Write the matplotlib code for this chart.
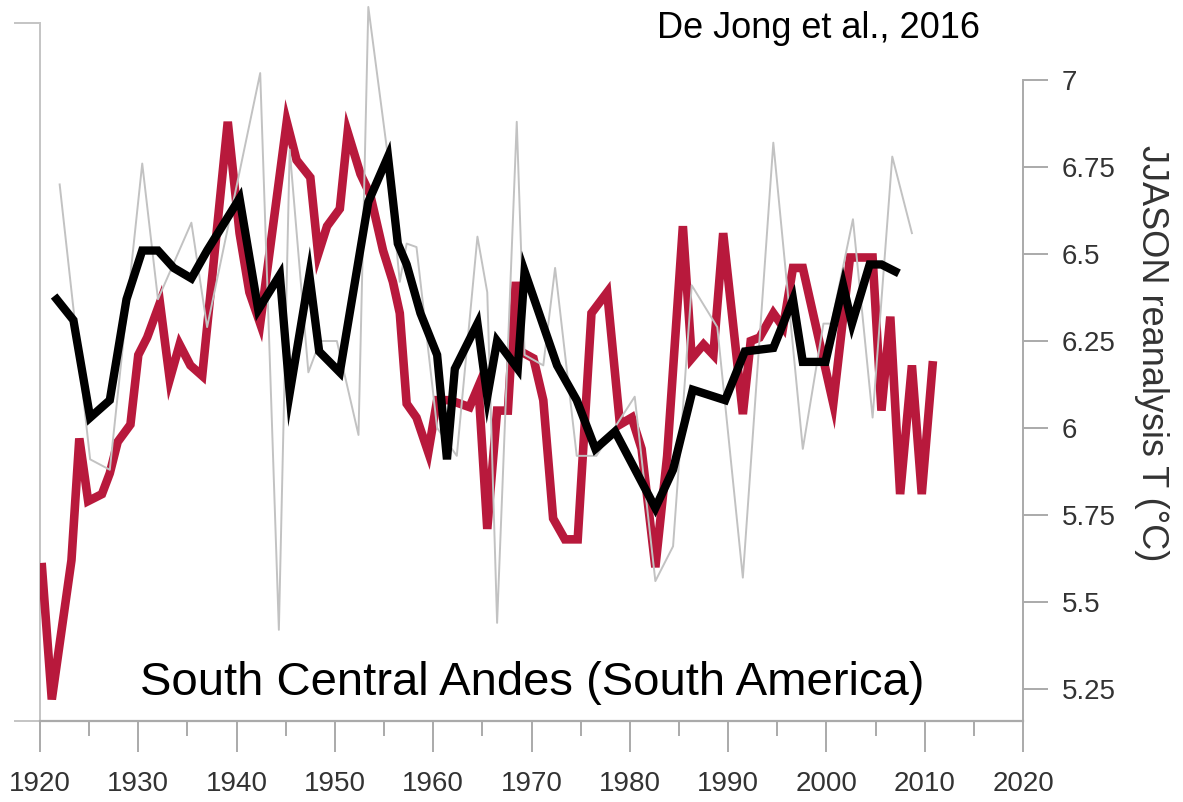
import numpy as np
import matplotlib
matplotlib.use('Agg')
import matplotlib.pyplot as plt
from matplotlib.ticker import MultipleLocator

plt.rcParams['font.family'] = ['Liberation Sans', 'DejaVu Sans']

# --- DATA (right-hand axis units, deg C) ---
red_years = [1920.2, 1921.2, 1923.2, 1924.0, 1924.9, 1926.3, 1927.1, 1927.9, 1929.2, 1930.0,
             1930.9, 1932.2, 1933.2, 1934.2, 1935.3, 1936.5, 1937.5, 1939.1, 1940.3, 1941.3,
             1942.4, 1945.1, 1946.1, 1947.5, 1948.3, 1949.2, 1950.5, 1951.3, 1952.6, 1953.6,
             1954.9, 1955.9, 1956.6, 1957.3, 1958.3, 1959.5, 1960.4, 1961.7, 1963.7, 1964.6,
             1965.5, 1966.5, 1967.6, 1968.4, 1968.9, 1970.2, 1971.2, 1972.2, 1973.4, 1974.7,
             1976.1, 1977.7, 1979.0, 1980.2, 1981.2, 1982.6, 1983.8, 1985.4, 1986.3, 1987.5,
             1988.5, 1989.5, 1991.5, 1992.3, 1993.2, 1994.6, 1995.6, 1996.6, 1997.6, 2000.7,
             2002.4, 2003.4, 2004.7, 2005.6, 2006.5, 2007.5, 2008.7, 2009.7, 2010.8]
red_vals = [5.60, 5.22, 5.62, 5.97, 5.79, 5.81, 5.87, 5.96, 6.01, 6.21,
            6.26, 6.36, 6.14, 6.24, 6.18, 6.15, 6.43, 6.88, 6.56, 6.39,
            6.30, 6.88, 6.77, 6.72, 6.50, 6.58, 6.63, 6.85, 6.73, 6.67,
            6.51, 6.42, 6.33, 6.07, 6.03, 5.93, 6.08, 6.08, 6.06, 6.12,
            5.71, 6.05, 6.05, 6.42, 6.22, 6.20, 6.08, 5.74, 5.68, 5.68,
            6.33, 6.39, 6.01, 6.03, 5.94, 5.60, 5.92, 6.58, 6.20, 6.24,
            6.21, 6.56, 6.04, 6.25, 6.26, 6.33, 6.29, 6.46, 6.46, 6.07,
            6.49, 6.49, 6.49, 6.05, 6.32, 5.81, 6.18, 5.81, 6.18]

black_years = [1921.7, 1923.4, 1925.1, 1927.1, 1928.8, 1930.4, 1932.0, 1933.6, 1935.4, 1937.0,
               1940.3, 1942.2, 1944.4, 1945.4, 1947.4, 1948.4, 1950.5, 1953.4, 1955.4, 1956.4,
               1957.3, 1958.7, 1960.4, 1961.4, 1962.2, 1964.5, 1965.5, 1966.5, 1968.6, 1969.3,
               1972.6, 1974.6, 1976.5, 1978.5, 1982.6, 1984.4, 1986.4, 1989.7, 1991.7, 1994.6,
               1996.6, 1997.6, 1999.9, 2001.7, 2002.6, 2004.4, 2005.6, 2007.0]
black_vals = [6.37, 6.31, 6.03, 6.08, 6.37, 6.51, 6.51, 6.46, 6.43, 6.51,
              6.66, 6.34, 6.44, 6.10, 6.44, 6.22, 6.16, 6.65, 6.78, 6.53,
              6.47, 6.33, 6.21, 5.91, 6.17, 6.30, 6.09, 6.25, 6.17, 6.45,
              6.18, 6.08, 5.94, 5.99, 5.77, 5.88, 6.11, 6.08, 6.22, 6.23,
              6.37, 6.19, 6.19, 6.41, 6.30, 6.47, 6.47, 6.45]

gray_years = [1922.0, 1925.1, 1927.1, 1930.4, 1932.0, 1935.4, 1937.0, 1942.4, 1944.3, 1945.4,
              1947.3, 1948.5, 1950.2, 1952.4, 1953.4, 1955.3, 1956.6, 1957.3, 1958.3, 1960.4,
              1962.4, 1964.5, 1965.5, 1966.5, 1968.5, 1969.3, 1971.2, 1972.4, 1974.6, 1976.6,
              1980.5, 1982.6, 1984.4, 1986.3, 1988.9, 1991.5, 1994.6, 1997.6, 1999.7, 2000.5,
              2002.7, 2004.7, 2006.7, 2008.7]
gray_vals = [6.70, 5.91, 5.88, 6.76, 6.37, 6.59, 6.29, 7.02, 5.42, 6.80,
             6.16, 6.25, 6.25, 5.98, 7.21, 6.80, 6.42, 6.53, 6.52, 6.00,
             5.92, 6.55, 6.39, 5.44, 6.88, 6.21, 6.18, 6.46, 5.92, 5.92,
             6.09, 5.56, 5.66, 6.41, 6.29, 5.57, 6.82, 5.94, 6.30, 6.30,
             6.60, 6.03, 6.78, 6.56]

right_ticks = [5.25, 5.5, 5.75, 6, 6.25, 6.5, 6.75, 7]
right_labels = ['5.25', '5.5', '5.75', '6', '6.25', '6.5', '6.75', '7']

# --- FIGURE ---
W, H = 1183, 802
fig = plt.figure(figsize=(W / 100, H / 100), dpi=100)
rect = [40 / W, 81 / H, 983 / W, 721 / H]
ymin, ymax = 5.158, 7.23

# left (unlabelled) proxy axis, drawn underneath
axl = fig.add_axes(rect)
axl.set_ylim(ymin, ymax)
axl.set_xticks([])
for s in ['top', 'right', 'bottom']:
    axl.spines[s].set_visible(False)
axl.spines['left'].set_color('#c4c4c4')
axl.spines['left'].set_linewidth(1.4)
axl.spines['left'].set_bounds(ymin, 7.164)
axl.set_yticks([ymin, 7.164])
axl.set_yticklabels([])
axl.tick_params(axis='y', direction='out', length=19, width=1.4, color='#c4c4c4')

# main axis (reanalysis temperature scale on the right)
ax = fig.add_axes(rect)
ax.patch.set_visible(False)
ax.set_xlim(1920, 2020)
ax.set_ylim(ymin, ymax)

ax.plot(red_years, red_vals, color='#b8193c', lw=6.2, solid_joinstyle='miter', zorder=2)
ax.plot(gray_years, gray_vals, color='#c2c2c2', lw=1.4, zorder=3)
ax.plot(black_years, black_vals, color='black', lw=6, solid_joinstyle='miter', zorder=4)

axis_col = '#aaaaaa'
tick_txt = '#333333'

ax.spines['top'].set_visible(False)
ax.spines['left'].set_visible(False)
ax.spines['bottom'].set_color(axis_col)
ax.spines['bottom'].set_linewidth(1.6)
ax.spines['right'].set_color(axis_col)
ax.spines['right'].set_linewidth(1.4)
ax.spines['right'].set_bounds(ymin, 7.0)

# x axis
ax.xaxis.set_major_locator(MultipleLocator(10))
ax.xaxis.set_minor_locator(MultipleLocator(5))
ax.tick_params(axis='x', which='major', direction='out', length=22, width=1.4,
               color=axis_col, labelsize=20, labelcolor=tick_txt, pad=14)
ax.tick_params(axis='x', which='minor', direction='out', length=11, width=1.4,
               color=axis_col)

# right y axis
ax.yaxis.tick_right()
ax.set_yticks(right_ticks)
ax.set_yticklabels(right_labels)
ax.tick_params(axis='y', which='major', direction='out', length=18, width=1.4,
               color=axis_col, labelsize=20, labelcolor=tick_txt, pad=10)

# texts
fig.text(657 / W, 1 - 38 / H, 'De Jong et al., 2016', fontsize=26, color='black',
         ha='left', va='baseline')
fig.text(140 / W, 1 - 695 / H, 'South Central Andes (South America)', fontsize=34,
         color='black', ha='left', va='baseline')
fig.text(1152 / W, 1 - 353 / H, 'JJASON reanalysis T (°C)', fontsize=26, color='#333333',
         rotation=270, ha='center', va='center')

fig.savefig('out.png', dpi=100)
